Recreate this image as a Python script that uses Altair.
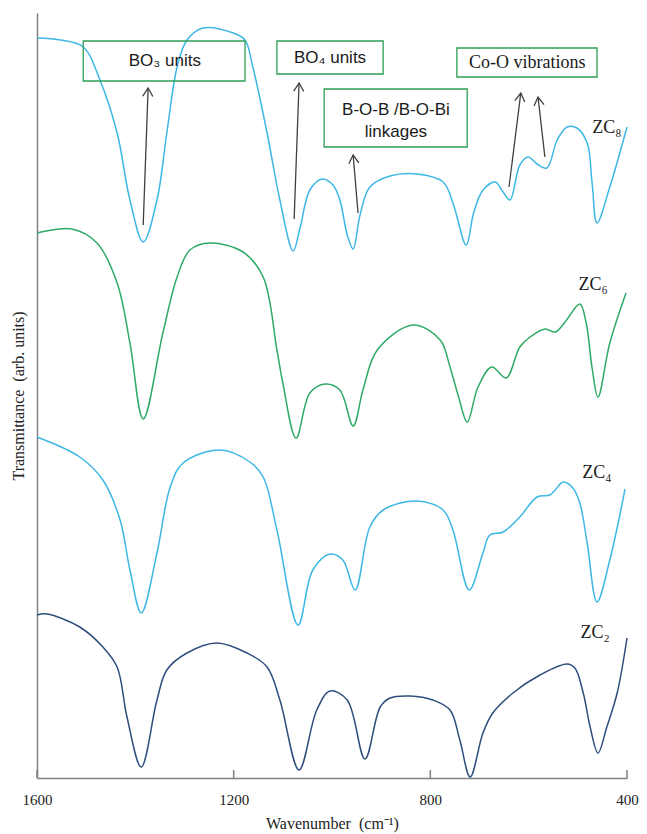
import altair as alt
import pandas as pd

# ---------------- data (wavenumber, transmittance in arb. units) ----------------
zc8_wn = [1600, 1553, 1506, 1472, 1437, 1411, 1384, 1356, 1336, 1315, 1295, 1262, 1201, 1177,
          1161, 1132, 1106, 1079, 1065, 1045, 1020, 998, 984, 969, 957, 943, 923, 882, 827,
          774, 754, 727, 712, 693, 668, 652, 638, 618, 601, 583, 563, 542, 522, 502, 481,
          471, 461, 435, 400]
zc8_t = [740, 738, 731, 698, 645, 578, 536, 578, 645, 711, 738, 750, 745, 738,
         711, 645, 578, 527, 550, 588, 599, 593, 578, 543, 529, 563, 591, 602, 604,
         596, 575, 533, 565, 588, 596, 586, 578, 613, 621, 614, 610, 638, 651, 650, 635,
         595, 555, 591, 651]

zc6_wn = [1600, 1529, 1478, 1437, 1411, 1384, 1344, 1315, 1289, 1248, 1181, 1140, 1112, 1100,
          1073, 1045, 1014, 984, 957, 937, 908, 835, 780, 760, 743, 725, 703, 675, 646,
          618, 597, 567, 546, 526, 496, 483, 471, 459, 435, 402]
zc6_t = [545, 549, 535, 495, 435, 359, 445, 501, 528, 535, 526, 501, 428, 395,
         340, 385, 394, 388, 352, 388, 428, 453, 438, 411, 382, 356, 391, 411, 400,
         431, 441, 449, 446, 456, 474, 455, 410, 381, 435, 485]

zc4_wn = [1600, 1513, 1466, 1431, 1411, 1388, 1356, 1329, 1303, 1228, 1167, 1140, 1112, 1069,
          1039, 1004, 978, 953, 923, 896, 827, 774, 754, 721, 693, 679, 652, 618, 583,
          557, 546, 530, 510, 496, 481, 461, 435, 404]
zc4_t = [341, 321, 298, 258, 208, 165, 225, 291, 315, 328, 316, 301, 248, 153,
         208, 224, 218, 188, 251, 268, 277, 268, 248, 188, 225, 243, 246, 261, 281,
         283, 288, 296, 290, 275, 235, 176, 218, 289]

zc2_wn = [1600, 1580, 1513, 1466, 1437, 1417, 1388, 1356, 1336, 1295, 1234, 1173, 1132, 1106,
          1067, 1031, 1004, 969, 933, 902, 882, 841, 795, 760, 740, 719, 693, 673, 632,
          577, 522, 506, 489, 475, 459, 441, 420, 400]
zc2_t = [163, 164, 151, 131, 111, 61, 11, 78, 108, 125, 135, 125, 111, 78,
         8, 68, 87, 78, 19, 71, 80, 82, 78, 68, 38, 1, 45, 65, 85,
         103, 114, 110, 85, 51, 25, 51, 85, 140]

series_names = ["ZC8", "ZC6", "ZC4", "ZC2"]
series_colors = ["#3DB7E4", "#2EAA66", "#3DB7E4", "#2F4E7D"]

label_text = ["ZC₈", "ZC₆", "ZC₄", "ZC₂"]
label_wn = [441, 469, 461, 465]
label_t = [650, 493, 305, 145]

tick_vals = [1600, 1200, 800, 400]

# annotation boxes (wavenumber range, transmittance range)
box_x = [1506, 1112, 1016, 746]
box_x2 = [1177, 896, 725, 461]
box_y = [737, 737, 689, 730]
box_y2 = [697, 704, 631, 701]

sans_text = ["BO₃ units", "BO₄ units", "B-O-B /B-O-Bi", "linkages"]
sans_wn = [1340, 1004, 870, 870]
sans_t = [717, 720, 668, 646]

serif_text = ["Co-O vibrations"]
serif_wn = [603]
serif_t = [715]

# arrows: tail -> head
arr_wn0 = [1384, 1077, 947, 640, 567]
arr_t0 = [553, 559, 565, 591, 621]
arr_wn1 = [1374, 1067, 957, 616, 581]
arr_t1 = [690, 695, 623, 685, 681]
arr_ang = [2, 2, 355, 7, 353]

# ---------------- tables ----------------
rows = []
for name, wn, t in [("ZC8", zc8_wn, zc8_t), ("ZC6", zc6_wn, zc6_t),
                    ("ZC4", zc4_wn, zc4_t), ("ZC2", zc2_wn, zc2_t)]:
    for a, b in zip(wn, t):
        rows.append({"series": name, "wn": a, "t": b})
spec = pd.DataFrame(rows)

labels_df = pd.DataFrame({"text": label_text, "wn": label_wn, "t": label_t})
ticks_df = pd.DataFrame({"wn": tick_vals})
boxes_df = pd.DataFrame({"x": box_x, "x2": box_x2, "y": box_y, "y2": box_y2})
sans_df = pd.DataFrame({"text": sans_text, "wn": sans_wn, "t": sans_t})
serif_df = pd.DataFrame({"text": serif_text, "wn": serif_wn, "t": serif_t})
arr_df = pd.DataFrame({"wn0": arr_wn0, "t0": arr_t0, "wn1": arr_wn1, "t1": arr_t1, "ang": arr_ang})

xscale = alt.Scale(domain=[400, 1600], reverse=True, nice=False, zero=False)
yscale = alt.Scale(domain=[0, 765], nice=False, zero=False)

serif = "Liberation Serif"
sans = "Liberation Sans"

x_axis = alt.Axis(title="Wavenumber\u00a0\u00a0(cm⁻¹)", values=tick_vals, format="d", ticks=False,
                  grid=False, domainColor="#808080", domainWidth=1.5,
                  labelFont=serif, labelFontSize=15, labelFontWeight="normal",
                  labelColor="#222222", labelPadding=14,
                  labelFlush=False, titleFont=serif, titleFontSize=16, titleFontWeight="normal",
                  titleColor="#222222", titlePadding=8)
y_axis = alt.Axis(title="Transmittance\u00a0\u00a0(arb.\u00a0units)", labels=False, ticks=False, grid=False,
                  domainColor="#808080", domainWidth=1.5, titleFont=serif, titleFontSize=16,
                  titleFontWeight="normal", titleColor="#222222", titlePadding=11)

lines = alt.Chart(spec).mark_line(interpolate="catmull-rom", strokeWidth=1.5).encode(
    x=alt.X("wn:Q", scale=xscale, axis=x_axis),
    y=alt.Y("t:Q", scale=yscale, axis=y_axis),
    color=alt.Color("series:N", scale=alt.Scale(domain=series_names, range=series_colors), legend=None),
    detail="series:N",
)

ticks = alt.Chart(ticks_df).mark_rule(color="#808080", strokeWidth=1.5).encode(
    x=alt.X("wn:Q", scale=xscale),
    y=alt.value(765),
    y2=alt.value(757),
)

boxes = alt.Chart(boxes_df).mark_rect(fill=None, filled=False, stroke="#2E9E55", strokeWidth=1.3).encode(
    x=alt.X("x:Q", scale=xscale), x2="x2:Q",
    y=alt.Y("y:Q", scale=yscale), y2="y2:Q",
)

sans_txt = alt.Chart(sans_df).mark_text(font=sans, fontSize=17, color="#1a1a1a",
                                        align="center", baseline="middle").encode(
    x=alt.X("wn:Q", scale=xscale), y=alt.Y("t:Q", scale=yscale), text="text:N")

serif_txt = alt.Chart(serif_df).mark_text(font=serif, fontSize=18, color="#1a1a1a",
                                          align="center", baseline="middle").encode(
    x=alt.X("wn:Q", scale=xscale), y=alt.Y("t:Q", scale=yscale), text="text:N")

arrows = alt.Chart(arr_df).mark_rule(color="#404040", strokeWidth=1.3).encode(
    x=alt.X("wn0:Q", scale=xscale), y=alt.Y("t0:Q", scale=yscale),
    x2="wn1:Q", y2="t1:Q")

heads = alt.Chart(arr_df).mark_point(shape="M-0.6,1L0,0L0.6,1", filled=False, size=280,
                                     color="#404040", strokeWidth=1.3, opacity=1).encode(
    x=alt.X("wn1:Q", scale=xscale), y=alt.Y("t1:Q", scale=yscale),
    angle=alt.Angle("ang:Q", scale=None))

labels = alt.Chart(labels_df).mark_text(font=serif, fontSize=18, color="#1a1a1a",
                                        align="center", baseline="middle").encode(
    x=alt.X("wn:Q", scale=xscale), y=alt.Y("t:Q", scale=yscale), text="text:N")

chart = alt.layer(lines, ticks, boxes, sans_txt, serif_txt, arrows, heads, labels).properties(
    width=590, height=765,
    padding={"left": 29, "top": 5, "right": 12, "bottom": 56},
    autosize=alt.AutoSizeParams(type="none"),
    background="white",
).configure_view(stroke=None)

chart.save("out.html", embed_options={"renderer": "svg", "actions": False})
